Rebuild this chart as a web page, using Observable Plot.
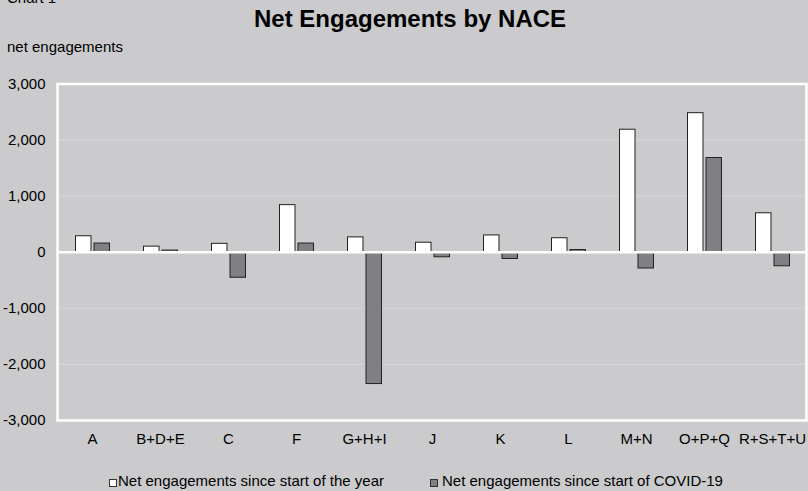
<!DOCTYPE html>
<html><head><meta charset="utf-8">
<script src="https://cdn.jsdelivr.net/npm/d3@7"></script>
<script src="https://cdn.jsdelivr.net/npm/@observablehq/plot@0.6"></script>
<style>
html,body{margin:0;padding:0;background:#cbcbcd;}
#wrap{position:relative;width:808px;height:491px;overflow:hidden;background:#cbcbcd;font-family:"Liberation Sans",Arial,sans-serif;color:#000;}
.t{position:absolute;line-height:1;white-space:nowrap;}
#chartno{left:7px;top:-10px;font-size:15px;}
#title{left:254px;top:7px;font-size:24px;font-weight:bold;}
#ylab{left:7px;top:39px;font-size:15px;}
#chart{position:absolute;left:0;top:0;}
.sq{position:absolute;width:6px;height:6px;border:1px solid #333;}
.lt{position:absolute;font-size:15px;line-height:1;white-space:nowrap;top:473px;}
</style></head><body>
<div id="wrap">
  <div id="chart"></div>
  <div class="t" id="chartno">Chart 1</div>
  <div class="t" id="title">Net Engagements by NACE</div>
  <div class="t" id="ylab">net engagements</div>
  <div id="legend"></div>
</div>
<script>
const categories = ["A","B+D+E","C","F","G+H+I","J","K","L","M+N","O+P+Q","R+S+T+U"];
const sinceYear  = [285, 100, 150, 840, 265, 170, 300, 250, 2185, 2480, 695];
const sinceCovid = [155, 30, -455, 155, -2350, -90, -120, 40, -290, 1680, -250];
const yTicks = [-3000, -2000, -1000, 0, 1000, 2000, 3000];
const seriesNames = ["Net engagements since start of the year", "Net engagements since start of COVID-19"];
const seriesColors = ["#ffffff", "#808084"];

const rowsYear = categories.map((c, i) => ({cat: c, v: sinceYear[i]}));
const rowsCovid = categories.map((c, i) => ({cat: c, v: sinceCovid[i]}));

const chart = Plot.plot({
  width: 808,
  height: 491,
  marginTop: 83.5,
  marginBottom: 71,
  marginLeft: 57,
  marginRight: 2,
  style: {background: "transparent", fontFamily: "'Liberation Sans', Arial, sans-serif", fontSize: "15px", color: "#000"},
  x: {domain: categories, padding: 0, label: null, tickSize: 0, tickPadding: 13},
  y: {domain: [-3000, 3000], ticks: yTicks, tickFormat: d => d.toLocaleString("en-US"), label: null, tickSize: 0, tickPadding: 12},
  marks: [
    Plot.gridY(yTicks.filter(d => d !== 0 && Math.abs(d) !== 3000), {stroke: "#d7d7d9", strokeOpacity: 1, strokeWidth: 1}),
    Plot.barY(rowsYear, {x: "cat", y: "v", fill: seriesColors[0], stroke: "#222", strokeWidth: 1, insetLeft: 17.5, insetRight: 35}),
    Plot.barY(rowsCovid, {x: "cat", y: "v", fill: seriesColors[1], stroke: "#222", strokeWidth: 1, insetLeft: 36, insetRight: 16.5}),
    Plot.ruleY([0], {stroke: "#fff", strokeWidth: 2.5}),
    Plot.frame({stroke: "#fff", strokeWidth: 2.5})
  ]
});
document.getElementById("chart").appendChild(chart);

const legend = document.getElementById("legend");
const legendPos = [{sq: 109, tx: 118}, {sq: 430, tx: 442}];
seriesNames.forEach((name, i) => {
  const s = document.createElement("div");
  s.className = "sq";
  s.style.left = legendPos[i].sq + "px";
  s.style.top = "479px";
  s.style.background = seriesColors[i];
  legend.appendChild(s);
  const t = document.createElement("div");
  t.className = "lt";
  t.style.left = legendPos[i].tx + "px";
  t.textContent = name;
  legend.appendChild(t);
});
</script>
</body></html>
